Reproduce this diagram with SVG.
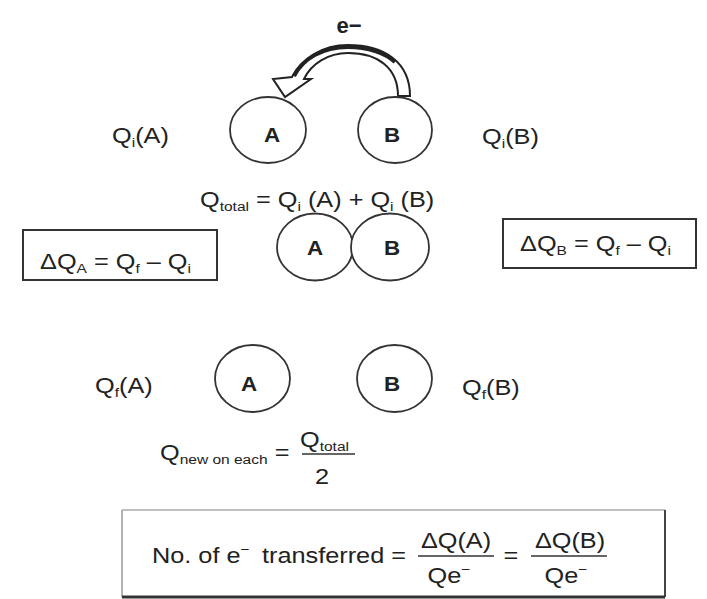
<svg xmlns="http://www.w3.org/2000/svg" width="707" height="599" viewBox="0 0 707 599">
<style>
.t { font-family: "Liberation Sans", Arial, sans-serif; font-size: 22px; fill: #222; }
.sub { font-size: 13.5px; }
.lbl { font-family: "Liberation Sans", Arial, sans-serif; font-size: 20px; font-weight: bold; text-anchor: middle; fill: #222; }
.c { fill: #fff; stroke: #333; stroke-width: 1.8; }
.box { fill: #fff; stroke: #333; stroke-width: 2; }
.mid { text-anchor: middle; }
</style>
<rect width="707" height="599" fill="#fff"/>

<g id="connectors">
  <path d="M410,96 C410,62 384,45 348,45 C322,45 301,59 292,77 L273,79 L285,97 L311,79 L304,79 C311,64 328,53 348,53 C378,53 398,68 398,96 Z" fill="#fff" stroke="#222" stroke-width="2" stroke-linejoin="miter"/>
  <path d="M294,76 C303,59 322,47 348,47 C368,47 385,53 395,62" fill="none" stroke="#222" stroke-width="4"/>
  <text class="t" font-weight="bold" transform="translate(349,33)" text-anchor="middle" font-size="23">e−</text>
</g>

<g id="top-A">
  <ellipse class="c" cx="268" cy="130" rx="38" ry="33"/>
  <text class="lbl" transform="translate(272,142) scale(1.12,1)">A</text>
</g>
<g id="top-B">
  <ellipse class="c" cx="395" cy="130" rx="37" ry="33"/>
  <text class="lbl" transform="translate(392,142) scale(1.12,1)">B</text>
</g>
<g id="label-QiA">
  <text class="t" transform="translate(112,143) scale(1.15,1)">Q<tspan class="sub" dy="4">i</tspan><tspan dy="-4">(A)</tspan></text>
</g>
<g id="label-QiB">
  <text class="t" transform="translate(482,144) scale(1.15,1)">Q<tspan class="sub" dy="4">i</tspan><tspan dy="-4">(B)</tspan></text>
</g>

<g id="qtotal">
  <text class="t" transform="translate(200,207) scale(1.15,1)">Q<tspan class="sub" dy="4">total</tspan><tspan dy="-4"> = Q</tspan><tspan class="sub" dy="4">i</tspan><tspan dy="-4"> (A) + Q</tspan><tspan class="sub" dy="4">i</tspan><tspan dy="-4"> (B)</tspan></text>
</g>

<g id="mid-A">
  <ellipse class="c" cx="315" cy="247" rx="38" ry="33.5"/>
  <text class="lbl" transform="translate(315,255) scale(1.12,1)">A</text>
</g>
<g id="mid-B">
  <ellipse class="c" cx="390" cy="247" rx="39" ry="33.5"/>
  <text class="lbl" transform="translate(392,255) scale(1.12,1)">B</text>
</g>

<g id="box-dQA">
  <rect class="box" x="23" y="230" width="194" height="50"/>
  <text class="t" transform="translate(40,269) scale(1.15,1)">ΔQ<tspan class="sub" dy="4">A</tspan><tspan dy="-4"> = Q</tspan><tspan class="sub" dy="4">f</tspan><tspan dy="-4"> – Q</tspan><tspan class="sub" dy="4">i</tspan></text>
</g>
<g id="box-dQB">
  <rect class="box" x="503" y="219" width="193" height="49"/>
  <text class="t" transform="translate(520,251) scale(1.15,1)">ΔQ<tspan class="sub" dy="4">B</tspan><tspan dy="-4"> = Q</tspan><tspan class="sub" dy="4">f</tspan><tspan dy="-4"> – Q</tspan><tspan class="sub" dy="4">i</tspan></text>
</g>

<g id="bot-A">
  <ellipse class="c" cx="252.5" cy="378.5" rx="37.5" ry="33.5"/>
  <text class="lbl" transform="translate(249,391) scale(1.12,1)">A</text>
</g>
<g id="bot-B">
  <ellipse class="c" cx="394.5" cy="378.5" rx="37.5" ry="33.5"/>
  <text class="lbl" transform="translate(392,391) scale(1.12,1)">B</text>
</g>
<g id="label-QfA">
  <text class="t" transform="translate(95,393) scale(1.15,1)">Q<tspan class="sub" dy="4">f</tspan><tspan dy="-4">(A)</tspan></text>
</g>
<g id="label-QfB">
  <text class="t" transform="translate(462,395) scale(1.15,1)">Q<tspan class="sub" dy="4">f</tspan><tspan dy="-4">(B)</tspan></text>
</g>

<g id="qnew">
  <text class="t" transform="translate(160,460) scale(1.15,1)">Q<tspan class="sub" dy="4">new on each</tspan><tspan dy="-4"> =</tspan></text>
  <line x1="302" y1="454" x2="355" y2="454" stroke="#333" stroke-width="1.5"/>
  <text class="t" transform="translate(300,447) scale(1.15,1)">Q<tspan class="sub" dy="4">total</tspan></text>
  <text class="t mid" transform="translate(322,484) scale(1.15,1)">2</text>
</g>

<g id="box-transfer">
  <rect x="122" y="510" width="543" height="87" fill="#fff" stroke="none"/>
  <line x1="122" y1="510" x2="665" y2="510" stroke="#aaa" stroke-width="1.5"/>
  <line x1="122" y1="510" x2="122" y2="597" stroke="#999" stroke-width="1.5"/>
  <line x1="665" y1="510" x2="665" y2="597" stroke="#444" stroke-width="2"/>
  <line x1="122" y1="597" x2="665" y2="597" stroke="#333" stroke-width="3"/>
  <text class="t" transform="translate(152,563) scale(1.15,1)">No. of e<tspan class="sub" dy="-9">−</tspan></text>
  <text class="t" transform="translate(262,563) scale(1.15,1)">transferred =</text>
  <text class="t mid" transform="translate(456,548) scale(1.15,1)">ΔQ(A)</text>
  <line x1="418" y1="556" x2="494" y2="556" stroke="#333" stroke-width="1.5"/>
  <text class="t mid" transform="translate(449,583) scale(1.15,1)">Qe<tspan class="sub" dy="-9">−</tspan></text>
  <text class="t mid" transform="translate(511,563) scale(1.15,1)">=</text>
  <text class="t mid" transform="translate(570,548) scale(1.15,1)">ΔQ(B)</text>
  <line x1="531" y1="556" x2="607" y2="556" stroke="#333" stroke-width="1.5"/>
  <text class="t mid" transform="translate(566,583) scale(1.15,1)">Qe<tspan class="sub" dy="-9">−</tspan></text>
</g>
</svg>
